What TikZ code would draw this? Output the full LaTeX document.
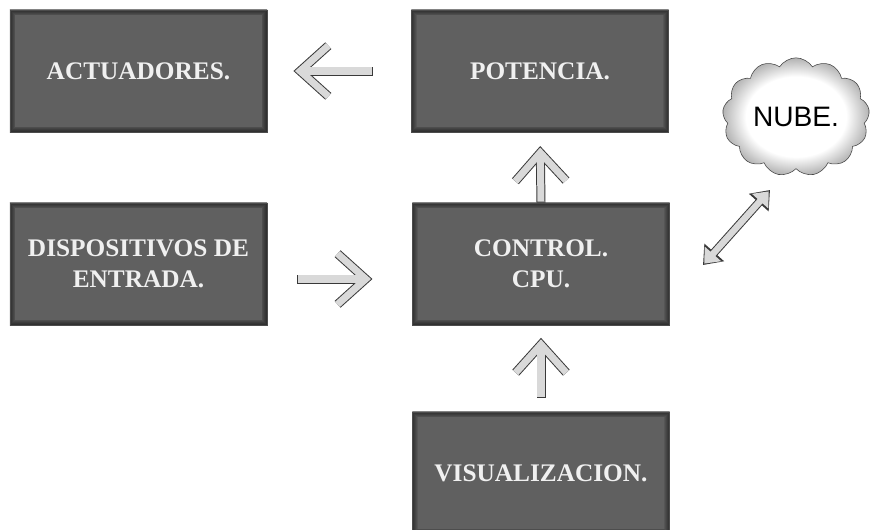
\documentclass[tikz,border=0pt]{standalone}
\usepackage{fontspec}
\setmainfont{Liberation Serif}
\setsansfont{Liberation Sans}
\usetikzlibrary{arrows.meta,shapes.symbols}

\pgfdeclareradialshading{nubesombra}{\pgfpoint{0cm}{0cm}}{color(0bp)=(white); color(17bp)=(white); color(25bp)=(gray!60); color(50bp)=(gray!60)}

\tikzset{
  bloque/.style={rectangle, fill=gray!75!black, draw=black!70, line width=0.6pt,
    minimum width=6.425cm, minimum height=3.05cm, align=center, text=white!94!black,
    font=\fontsize{18}{22}\selectfont\bfseries,
    path picture={\foreach \k in {1,...,6}
      \draw[black, opacity=0.1, line width=\k*1.3pt] (path picture bounding box.south west) rectangle (path picture bounding box.north east);}},
  flecha/.style 2 args={draw=gray!30, line width=5pt, shorten <=#1+0.7pt, shorten >=#2+1.05pt,
    -{Straight Barb[length=20pt 0, width=36pt 0, line width=5pt 0]},
    preaction={draw=gray!45!black, line width=6.4pt, shorten <=#1, shorten >=#2,
      -{Straight Barb[length=20pt 0, width=36pt 0, line width=6.4pt 0]}}},
  flechados/.style={draw=gray!30, line width=4.6pt, shorten <=1.3pt, shorten >=1.3pt,
    {Triangle[length=9.3pt 0, width=15pt 0]}-{Triangle[length=9.3pt 0, width=15pt 0]},
    preaction={draw=gray!45!black, line width=6pt, shorten <=0pt, shorten >=0pt,
      {Triangle[length=12pt 0, width=18pt 0]}-{Triangle[length=12pt 0, width=18pt 0]}}},
  nube/.style={cloud, cloud puffs=13, cloud puff arc=115, aspect=1.3, draw=gray!55!black,
    shading=nubesombra, minimum width=3.675cm, minimum height=2.825cm,
    font=\sffamily\fontsize{20}{24}\selectfont}
}

\begin{document}
\begin{tikzpicture}[x=0.025cm, y=-0.025cm]
    % Fondo
    \fill[white] (0,0) rectangle (870,529);
    \useasboundingbox (0,0) rectangle (870,529);

    % Bloques
    \node[bloque] (act) at (138.5,71) {ACTUADORES.};
    \node[bloque] (pot) at (540,71) {POTENCIA.};
    \node[bloque] (dis) at (138.5,264) {DISPOSITIVOS DE\\ENTRADA.};
    \node[bloque] (con) at (541,264) {CONTROL.\\CPU.};
    \node[bloque] (vis) at (541,473) {VISUALIZACION.};
    \node[nube] (nube) at (796,117) {NUBE.};

    % Flechas
    \draw[flecha={0.96cm}{0.65cm}] (pot.west) -- (act.east);
    \draw[flecha={0.75cm}{0.99cm}] ([yshift=-0.375cm]dis.east) -- ([yshift=-0.375cm]con.west);
    \draw[flecha={0pt}{0.34cm}] (con.north) -- (pot.south);
    \draw[flecha={0.34cm}{0.31cm}] (vis.north) -- (con.south);

    % Conexion con la nube
    \coordinate (c1) at (703,265);
    \coordinate (c2) at (770,190);
    \draw[flechados] (c1) -- (c2);

    \end{tikzpicture}
\end{document}
